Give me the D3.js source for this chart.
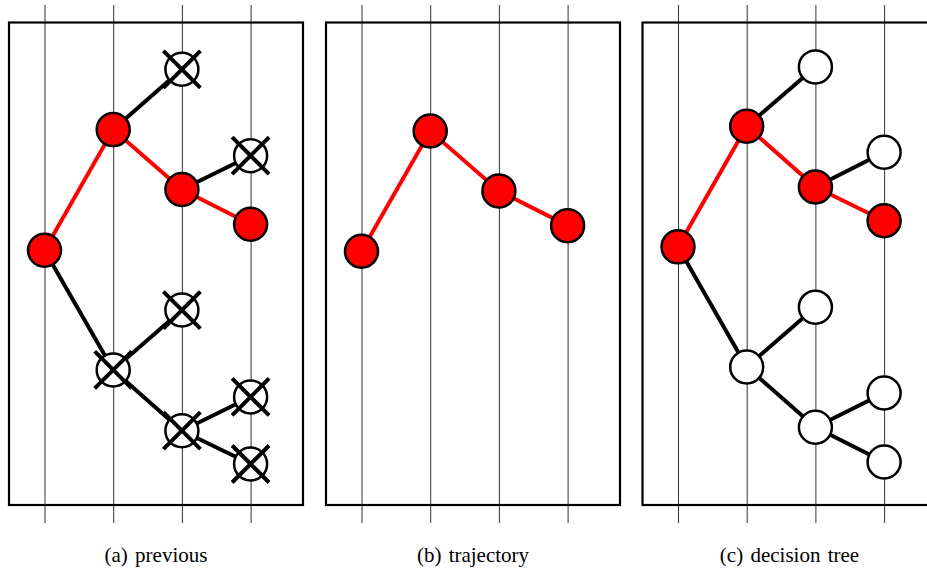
<!DOCTYPE html>
<html>
<head>
<meta charset="utf-8">
<script src="https://cdn.jsdelivr.net/npm/d3@7"></script>
<style>
  html, body { margin: 0; padding: 0; background: #fff; }
  svg { display: block; }
  .caption { font-family: "Liberation Serif", "DejaVu Serif", serif; font-size: 21px; word-spacing: 2px; }
</style>
</head>
<body>
<svg id="chart" width="927" height="570"></svg>
<script>
// Search tree over four decision steps: node step, parent and status.
const nodeSteps   = [0, 1, 1, 2, 2, 2, 2, 3, 3, 3, 3];
const nodeParents = [-1, 0, 0, 1, 1, 2, 2, 4, 4, 6, 6];
// "path" = chosen trajectory, "other" = alternative branch
const nodeStatus  = ["path", "path", "other", "other", "path", "other", "other", "other", "path", "other", "other"];

// Node values (vertical position, 0..100) for each panel
const previousValues = [52.8, 77.8, 28.0, 90.3, 65.4, 40.4, 15.4, 72.4, 58.2, 22.4, 8.5];
const trajectorySteps  = [0, 1, 2, 3];
const trajectoryValues = [52.6, 77.5, 65.1, 57.9];
const treeValues = [53.5, 78.5, 28.6, 90.8, 65.9, 41.0, 16.1, 73.1, 58.9, 23.2, 8.9];

const stepTicks = [0, 1, 2, 3];
const captions = ["(a) previous", "(b) trajectory", "(c) decision tree"];

const svg = d3.select("#chart");
const panelLefts = [9, 326, 642.5];
const panelW = 294, frameTop = 22.5, frameBottom = 505;
const R = 16.5;
const RED = "#ff0000";

const y = d3.scaleLinear().domain([0, 100]).range([frameBottom, frameTop]);

function makePanel(i) {
  const left = panelLefts[i];
  const x = d3.scaleLinear().domain([0, 3]).range([left + 35.5, left + 35.5 + 3 * 68.7]);
  const g = svg.append("g");

  // step guide lines, running past the frame as ticks
  const axis = d3.axisBottom(x).tickValues(stepTicks).tickFormat("").tickSize(518).tickSizeOuter(0);
  const ag = g.append("g").attr("transform", "translate(0,5)").call(axis);
  ag.select(".domain").remove();
  ag.selectAll(".tick line").attr("stroke", "#333").attr("stroke-width", 1);

  // frame
  g.append("rect")
    .attr("x", left).attr("y", frameTop)
    .attr("width", panelW).attr("height", frameBottom - frameTop)
    .attr("fill", "none").attr("stroke", "#000").attr("stroke-width", 2.2);

  // caption
  g.append("text")
    .attr("class", "caption")
    .attr("x", left + panelW / 2).attr("y", 562)
    .attr("text-anchor", "middle")
    .text(captions[i]);

  return { g, x };
}

function drawTree(panel, values, crossed) {
  const { g, x } = panel;
  const nodes = nodeSteps.map((s, k) => ({ k, s, v: values[k], p: nodeParents[k], st: nodeStatus[k] }));
  const edges = nodes.filter(d => d.p >= 0);
  // black edges first, trajectory on top
  edges.sort((a, b) => (a.st === "path") - (b.st === "path"));
  g.selectAll("line.edge").data(edges).join("line")
    .attr("class", "edge")
    .attr("x1", d => x(nodes[d.p].s)).attr("y1", d => y(nodes[d.p].v))
    .attr("x2", d => x(d.s)).attr("y2", d => y(d.v))
    .attr("stroke", d => d.st === "path" ? RED : "#000")
    .attr("stroke-width", 4);

  g.selectAll("circle.node").data(nodes).join("circle")
    .attr("class", "node")
    .attr("cx", d => x(d.s)).attr("cy", d => y(d.v)).attr("r", R)
    .attr("fill", d => d.st === "path" ? RED : "#fff")
    .attr("stroke", "#000").attr("stroke-width", 2.5);

  if (crossed) {
    const off = nodes.filter(d => d.st !== "path");
    const c = 18.5;
    g.selectAll("path.cross").data(off).join("path")
      .attr("class", "cross")
      .attr("d", d => {
        const cx = x(d.s), cy = y(d.v);
        return `M${cx - c},${cy - c}L${cx + c},${cy + c}M${cx - c},${cy + c}L${cx + c},${cy - c}`;
      })
      .attr("fill", "none").attr("stroke", "#000").attr("stroke-width", 4);
  }
}

// (a) previous: explored tree, discarded branches crossed out
drawTree(makePanel(0), previousValues, true);

// (b) trajectory: only the chosen path
{
  const { g, x } = makePanel(1);
  const pts = trajectorySteps.map((s, k) => [s, trajectoryValues[k]]);
  g.append("path")
    .attr("d", d3.line().x(d => x(d[0])).y(d => y(d[1]))(pts))
    .attr("fill", "none").attr("stroke", RED).attr("stroke-width", 4);
  g.selectAll("circle").data(pts).join("circle")
    .attr("cx", d => x(d[0])).attr("cy", d => y(d[1])).attr("r", R)
    .attr("fill", RED).attr("stroke", "#000").attr("stroke-width", 2.5);
}

// (c) decision tree: full tree kept
drawTree(makePanel(2), treeValues, false);
</script>
</body>
</html>
